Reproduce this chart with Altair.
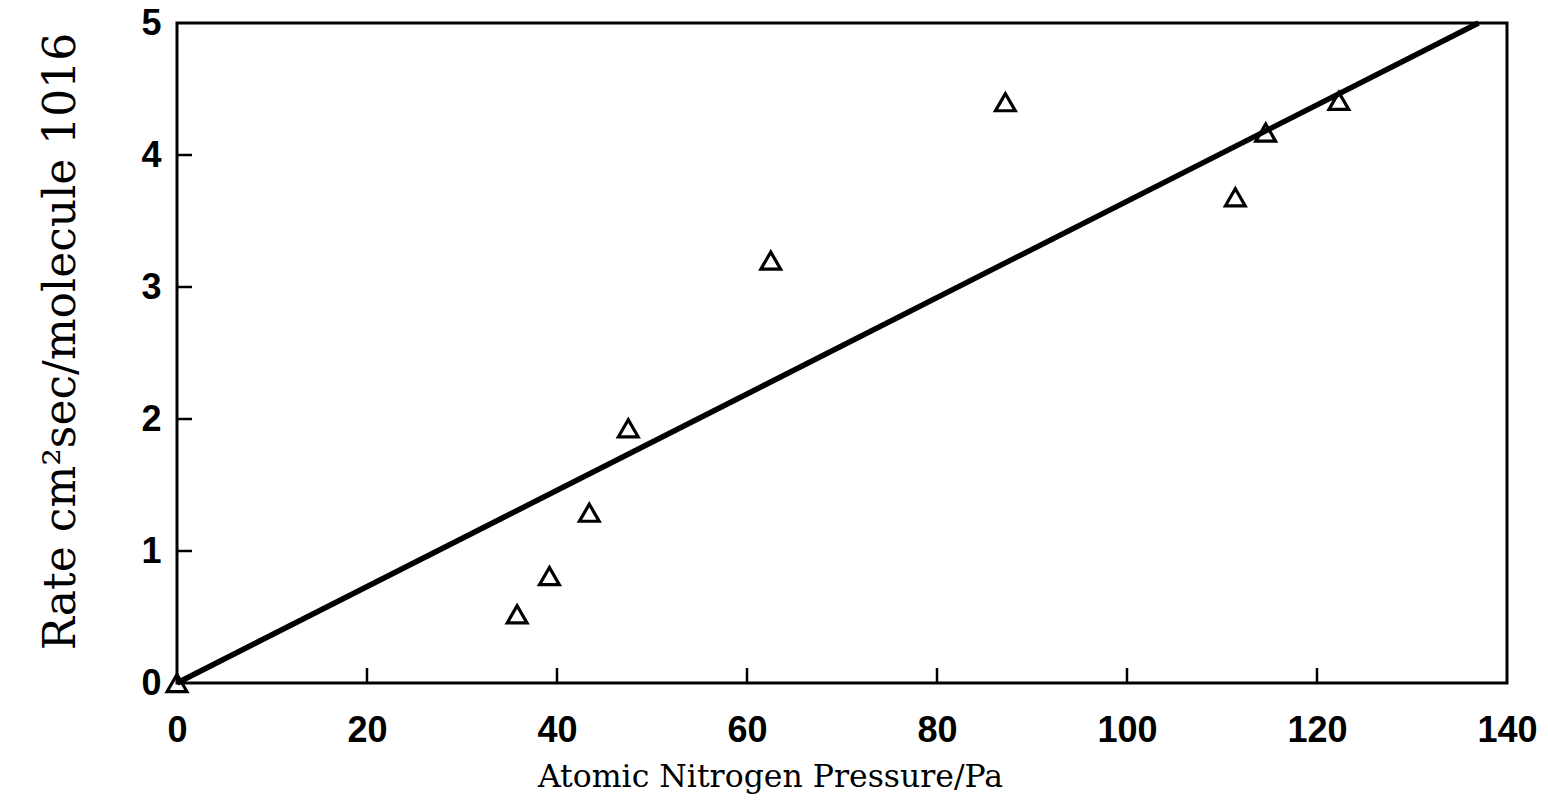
import altair as alt
import pandas as pd

# Measured rates vs. atomic nitrogen pressure
pressure = [0, 35.8, 39.2, 43.4, 47.5, 62.5, 87.2, 111.4, 114.6, 122.3]
rate = [0, 0.52, 0.81, 1.29, 1.93, 3.2, 4.4, 3.68, 4.17, 4.41]

# Straight-line fit through the origin
fit_pressure = [0, 137]
fit_rate = [0, 5]

x_ticks = [20, 40, 60, 80, 100, 120]
y_ticks = [1, 2, 3, 4]

W, H = 1330, 660

pts = pd.DataFrame({"p": pressure, "r": rate})
fit = pd.DataFrame({"p": fit_pressure, "r": fit_rate})
xt = pd.DataFrame({"p": x_ticks})
yt = pd.DataFrame({"r": y_ticks})

x_scale = alt.Scale(domain=[0, 140], nice=False, zero=False)
y_scale = alt.Scale(domain=[0, 5], nice=False, zero=False)

x_axis = alt.Axis(
    values=[0, 20, 40, 60, 80, 100, 120, 140],
    format="d",
    grid=False,
    domain=False,
    ticks=False,
    labelFont="Liberation Sans",
    labelFontWeight="bold",
    labelFontSize=36,
    labelColor="black",
    labelPadding=30,
    labelFlush=False,
    title="Atomic Nitrogen Pressure/Pa",
    titleFont="DejaVu Serif",
    titleFontWeight="normal",
    titleFontSize=31.5,
    titleColor="black",
    titleX=593,
    titleY=94,
    titleAlign="center",
    titleBaseline="middle",
)

y_axis = alt.Axis(
    values=[0, 1, 2, 3, 4, 5],
    format="d",
    grid=False,
    domain=False,
    ticks=False,
    labelFont="Liberation Sans",
    labelFontWeight="bold",
    labelFontSize=36,
    labelColor="black",
    labelPadding=16,
    labelFlush=False,
    title="Rate cm²sec/molecule 1016",
    titleFont="DejaVu Serif",
    titleFontWeight="normal",
    titleFontSize=44,
    titleColor="black",
    titleAngle=270,
    titleX=-116,
    titleY=318,
    titleAlign="center",
    titleBaseline="middle",
)

line = alt.Chart(fit).mark_line(color="black", strokeWidth=5.5).encode(
    x=alt.X("p:Q", scale=x_scale, axis=x_axis),
    y=alt.Y("r:Q", scale=y_scale, axis=y_axis),
)

points = alt.Chart(pts).mark_point(
    shape="triangle-up", size=390, filled=False, color="black", strokeWidth=3.2, opacity=1
).encode(
    x=alt.X("p:Q", scale=x_scale),
    y=alt.Y("r:Q", scale=y_scale),
)

x_tick_marks = alt.Chart(xt).mark_rule(color="black", strokeWidth=2.5).encode(
    x=alt.X("p:Q", scale=x_scale),
    y=alt.value(H - 15),
    y2=alt.value(H),
)

y_tick_marks = alt.Chart(yt).mark_rule(color="black", strokeWidth=2.5).encode(
    y=alt.Y("r:Q", scale=y_scale),
    x=alt.value(0),
    x2=alt.value(15),
)

chart = (
    alt.layer(x_tick_marks, y_tick_marks, line, points)
    .properties(
        width=W,
        height=H,
        autosize=alt.AutoSizeParams(type="none"),
        padding={"left": 177, "top": 23, "right": 41, "bottom": 121},
        background="white",
    )
    .configure_view(stroke="black", strokeWidth=3)
)

chart.save("out.html", embed_options={"renderer": "svg", "actions": False})
